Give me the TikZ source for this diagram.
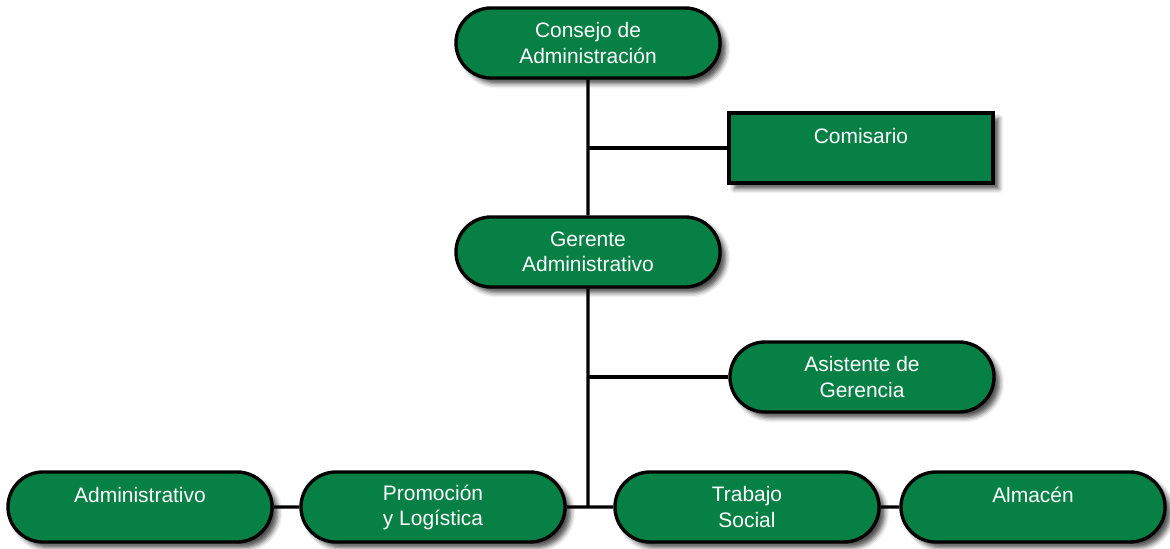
\documentclass[tikz,border=0pt]{standalone}
\usepackage{fontspec}
\setmainfont{Liberation Sans}
\usepackage{tikz}
\usetikzlibrary{shapes.misc,shadows.blur}
\definecolor{orggreen}{RGB}{6,128,68}

\begin{document}
\begin{tikzpicture}[x=0.025cm,y=-0.025cm]
\tikzset{unit/.style = {rounded rectangle,draw=black,line width=2.4pt,fill=orggreen,
text=white,align=center,minimum width=6.6cm,minimum height=1.75cm,inner sep=0pt,
font=\fontsize{14.9}{17.8}\selectfont,
blur shadow={shadow xshift=0.14cm,shadow yshift=-0.14cm,shadow blur radius=0.12cm,shadow opacity=70}}}
\tikzset{boxunit/.style = {unit,rectangle}}
\tikzset{edge/.style = {line width=2.4pt,black}}
\useasboundingbox (0,0) rectangle (1170,548);
% vertices
\node[unit] (consejo) at (588,43) {Consejo de\\Administración};
\node[boxunit] (comisario) at (861,148) {Comisario\\\mbox{}};
\node[unit] (gerente) at (588,252) {Gerente\\Administrativo};
\node[unit] (asistente) at (862,377) {Asistente de\\Gerencia};
\node[unit] (admin) at (140,507) {Administrativo\\\mbox{}};
\node[unit] (promocion) at (433,507) {Promoción\\y Logística};
\node[unit] (trabajo) at (747,507) {Trabajo\\Social};
\node[unit] (almacen) at (1033,507) {Almacén\\\mbox{}};
\coordinate (junction) at (588,507);

%edges
\draw[edge] (consejo) -- (gerente);
\draw[edge] (gerente) -- (junction);
\draw[edge] (comisario.west -| consejo.south) -- (comisario.west);
\draw[edge] (asistente.west -| gerente.south) -- (asistente.west);
\draw[edge] (promocion) -- (trabajo);
\draw[edge] (admin) -- (promocion);
\draw[edge] (trabajo) -- (almacen);
\end{tikzpicture}
\end{document}
